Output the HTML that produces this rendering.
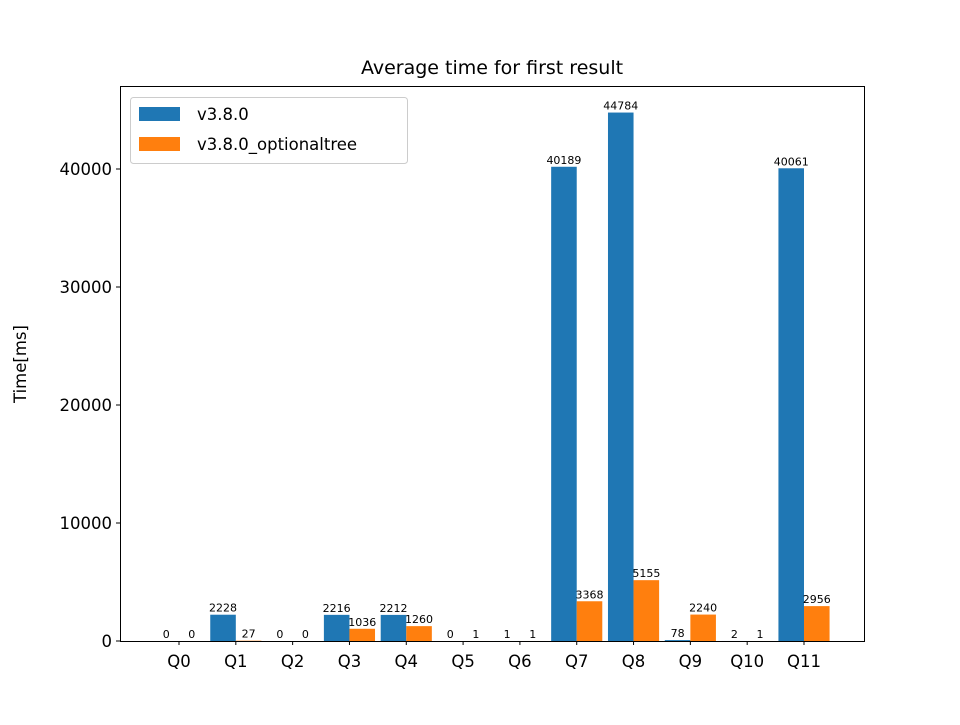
<!DOCTYPE html>
<html><head><meta charset="utf-8"><style>
body{margin:0;background:#fff;}
svg text{font-family:"DejaVu Sans","Liberation Sans",sans-serif;}
</style></head><body>
<svg id="chart" width="960" height="720" viewBox="0 0 960 720">
<rect width="960" height="720" fill="#fff"/>
<text x="492" y="74" font-size="19" text-anchor="middle">Average time for first result</text>
<text transform="translate(26,364) rotate(-90)" font-size="16.5" text-anchor="middle">Time[ms]</text>
<g id="bars"></g>
<g id="axes"></g>
<g>
<rect x="130.5" y="97.5" width="277" height="66" rx="3" fill="#fff" stroke="#ccc"/>
<rect x="139" y="107" width="41" height="14" fill="#1f77b4"/>
<text x="197" y="120" font-size="16.5">v3.8.0</text>
<rect x="139" y="137" width="41" height="14" fill="#ff7f0e"/>
<text x="197" y="150" font-size="16.5">v3.8.0_optionaltree</text>
</g>
</svg>
<script>
const categories=["Q0","Q1","Q2","Q3","Q4","Q5","Q6","Q7","Q8","Q9","Q10","Q11"];
const seriesA=[0,2228,0,2216,2212,0,1,40189,44784,78,2,40061];
const seriesB=[0,27,0,1036,1260,1,1,3368,5155,2240,1,2956];
const yTicks=[0,10000,20000,30000,40000];
const NS="http://www.w3.org/2000/svg";
const L=120,R=864,T=86,B=641;
const step=(804-179)/11;
function x(i){return 179+i*step;}
function y(v){return B-v*(472/40000);}
const bw=step*0.45;
function mk(tag,attrs,parent){const e=document.createElementNS(NS,tag);for(const k in attrs)e.setAttribute(k,attrs[k]);parent.appendChild(e);return e;}
const bars=document.getElementById('bars'),axes=document.getElementById('axes');
categories.forEach((c,i)=>{
  [[seriesA,"#1f77b4",-bw,"v380"],[seriesB,"#ff7f0e",0,"optionaltree"]].forEach(([s,col,off,nm])=>{
    const v=s[i];
    const r=mk('rect',{x:x(i)+off,y:y(v),width:bw,height:B-y(v),fill:col},bars);
    
    
    const t=mk('text',{x:x(i)+off+bw/2,y:y(v)-3,'font-size':'11','text-anchor':'middle'},bars);
    t.textContent=v;
    
    
  });
  mk('line',{x1:x(i),x2:x(i),y1:B,y2:B+4,stroke:'#000'},axes);
  const tl=mk('text',{x:x(i),y:B+26,'font-size':'16.5','text-anchor':'middle'},axes);
  tl.textContent=c;
  
  
});
yTicks.forEach(v=>{
  mk('line',{x1:L-4,x2:L,y1:y(v),y2:y(v),stroke:'#000'},axes);
  const tl=mk('text',{x:L-8,y:y(v)+6,'font-size':'16.5','text-anchor':'end'},axes);
  tl.textContent=v;
  
  
});
const fr=mk('rect',{x:L+0.5,y:T+0.5,width:R-L,height:B-T,fill:'none',stroke:'#000'},axes);


</script>
</body></html>
